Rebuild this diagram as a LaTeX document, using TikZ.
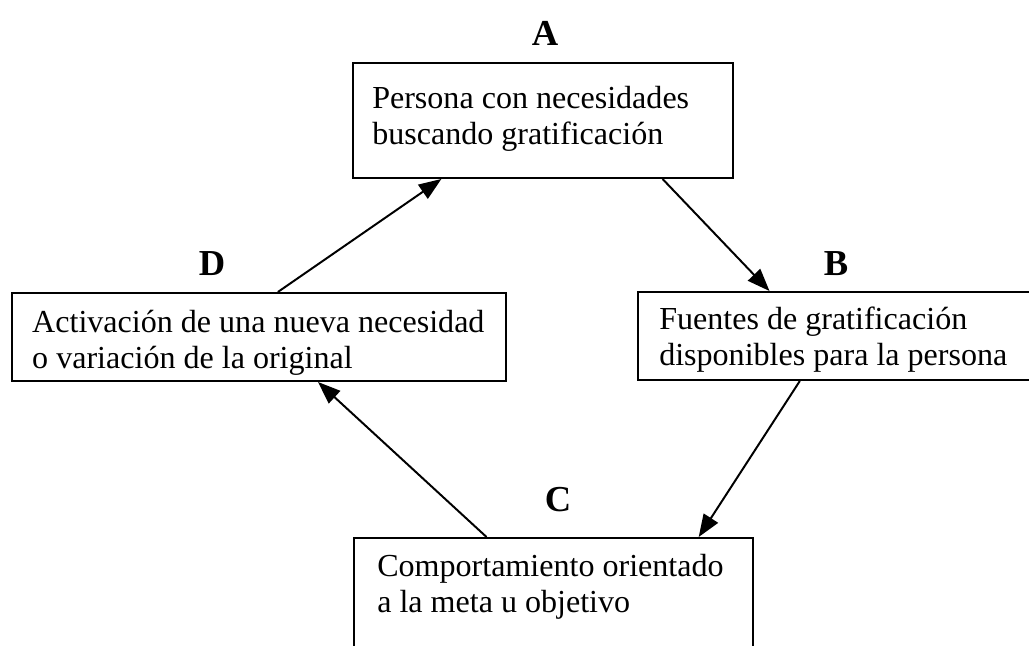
\documentclass[tikz,border=0pt]{standalone}
\usepackage{fontspec}
\setmainfont{Liberation Serif}
\usetikzlibrary{arrows.meta, calc, positioning}

\begin{document}
\begin{tikzpicture}[x=0.025cm, y=-0.025cm,
    caja/.style={draw, line width=1.4pt, inner sep=0pt},
    texto/.style={anchor=north west, inner sep=0pt, align=left,
        font=\fontsize{22.8}{25.5}\selectfont},
    letra/.style={inner sep=0pt, font=\fontsize{26}{26}\selectfont\bfseries},
    flecha/.style={-{Triangle[length=16pt, width=12pt]}, line width=1.4pt}]
    \useasboundingbox (0,0) rectangle (1029,645);

    % Boxes
    \node[caja, minimum width=9.5cm, minimum height=2.875cm] (cajaA) at (543,120.5) {};
    \node[caja, minimum width=10.05cm, minimum height=2.2cm] (cajaB) at (839,336) {};
    \node[caja, minimum width=12.35cm, minimum height=2.2cm] (cajaD) at (259,337) {};
    \node[caja, minimum width=9.975cm, minimum height=3.8cm] (cajaC) at (553.5,614) {};

    % Texts
    \node[texto] (txtA) at ($(cajaA.north west)+(20,24)$) {Persona con necesidades\\buscando gratificación};
    \node[texto] (txtB) at ($(cajaB.north west)+(22,16)$) {Fuentes de gratificación\\disponibles para la persona};
    \node[texto] (txtD) at ($(cajaD.north west)+(21,18)$) {Activación de una nueva necesidad\\o variación de la original};
    \node[texto] (txtC) at ($(cajaC.north west)+(24,17)$) {Comportamiento orientado\\a la meta u objetivo};

    % Letters
    \node[letra] (etqA) at (545,33) {A};
    \node[letra] (etqB) at (836,264) {B};
    \node[letra] (etqC) at (558,500) {C};
    \node[letra] (etqD) at (212,264) {D};

    % Cycle
    \draw[flecha] ($(cajaA.south west)!0.813!(cajaA.south east)$) -- ($(cajaB.north west)!0.328!(cajaB.north east)$);
    \draw[flecha] ($(cajaB.south west)!0.403!(cajaB.south east)$) -- ($(cajaC.north west)!0.862!(cajaC.north east)$);
    \draw[flecha] ($(cajaC.north west)!0.333!(cajaC.north east)$) -- ($(cajaD.south west)!0.619!(cajaD.south east)$);
    \draw[flecha] ($(cajaD.north west)!0.538!(cajaD.north east)$) -- ($(cajaA.south west)!0.234!(cajaA.south east)$);
\end{tikzpicture}
\end{document}
